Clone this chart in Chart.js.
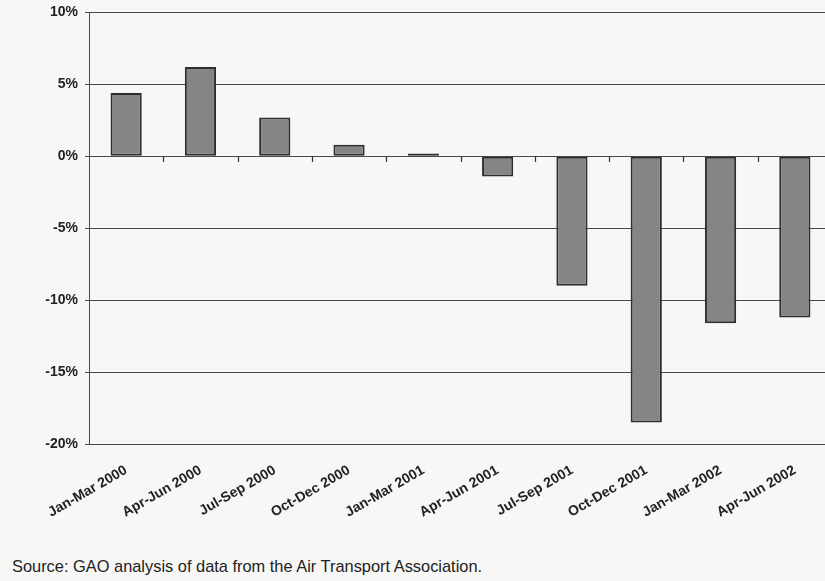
<!DOCTYPE html>
<html>
<head>
<meta charset="utf-8">
<script src="https://cdn.jsdelivr.net/npm/chart.js@4/dist/chart.umd.min.js"></script>
<style>
  html, body { margin: 0; padding: 0; background: #f7f7f6; overflow: hidden; }
  #wrap { position: relative; width: 825px; height: 581px; overflow: hidden; }
  #chart { position: absolute; left: 0; top: -3px; }
  #source {
    position: absolute; left: 12px; top: 557px;
    font: 16.4px "Liberation Sans", Arial, sans-serif; color: #222;
  }
</style>
</head>
<body>
<div id="wrap">
  <canvas id="chart" width="832" height="523"></canvas>
  <div id="source">Source: GAO analysis of data from the Air Transport Association.</div>
</div>
<script>
// quarters on the x axis
const quarters = [
  'Jan-Mar 2000', 'Apr-Jun 2000', 'Jul-Sep 2000', 'Oct-Dec 2000',
  'Jan-Mar 2001', 'Apr-Jun 2001', 'Jul-Sep 2001', 'Oct-Dec 2001',
  'Jan-Mar 2002', 'Apr-Jun 2002'
];
// percent change
const changePct = [4.4, 6.2, 2.7, 0.8, 0.2, -1.4, -9.0, -18.5, -11.6, -11.2];
// y axis range and step
const yMin = -20, yMax = 10, yStep = 5;

const FONT = '"Liberation Sans", Arial, sans-serif';
const INK = '#222';
const LINE = '#484848';

// short tick marks hanging under the zero line, between categories
const zeroTicks = {
  id: 'zeroTicks',
  afterDraw(chart) {
    const xs = chart.scales.x, ys = chart.scales.y;
    const y0 = Math.round(ys.getPixelForValue(0));
    const n = chart.data.labels.length;
    const ctx = chart.ctx;
    ctx.save();
    ctx.strokeStyle = '#333';
    ctx.lineWidth = 1.2;
    ctx.beginPath();
    for (let i = 1; i < n; i++) {
      const x = Math.round((xs.getPixelForTick(i - 1) + xs.getPixelForTick(i)) / 2) + 0.5;
      ctx.moveTo(x, y0);
      ctx.lineTo(x, y0 + 6);
    }
    ctx.stroke();
    ctx.restore();
  }
};

new Chart(document.getElementById('chart'), {
  type: 'bar',
  data: {
    labels: quarters,
    datasets: [{
      data: changePct,
      backgroundColor: '#858585',
      borderColor: '#2e2e2e',
      borderWidth: 2,
      borderSkipped: false,
      categoryPercentage: 1,
      barPercentage: 0.42
    }]
  },
  options: {
    responsive: false,
    animation: false,
    layout: { padding: { top: 9, right: 0, bottom: 0, left: 0 } },
    plugins: { legend: { display: false }, tooltip: { enabled: false } },
    scales: {
      x: {
        offset: true,
        grid: { display: false },
        border: { display: false },
        ticks: {
          autoSkip: false, maxRotation: 30, minRotation: 30,
          padding: 10, color: INK,
          font: { family: FONT, size: 14, weight: 'bold' }
        },
        afterFit: s => { s.height = 76; }
      },
      y: {
        min: yMin, max: yMax,
        grid: { color: LINE, lineWidth: 1, tickLength: 4 },
        border: { display: true, color: LINE, width: 1 },
        ticks: {
          stepSize: yStep, padding: 7, color: INK,
          font: { family: FONT, size: 14, weight: 'bold' },
          callback: v => v + '%'
        },
        afterFit: s => { s.width = 89; }
      }
    }
  },
  plugins: [zeroTicks]
});
</script>
</body>
</html>
